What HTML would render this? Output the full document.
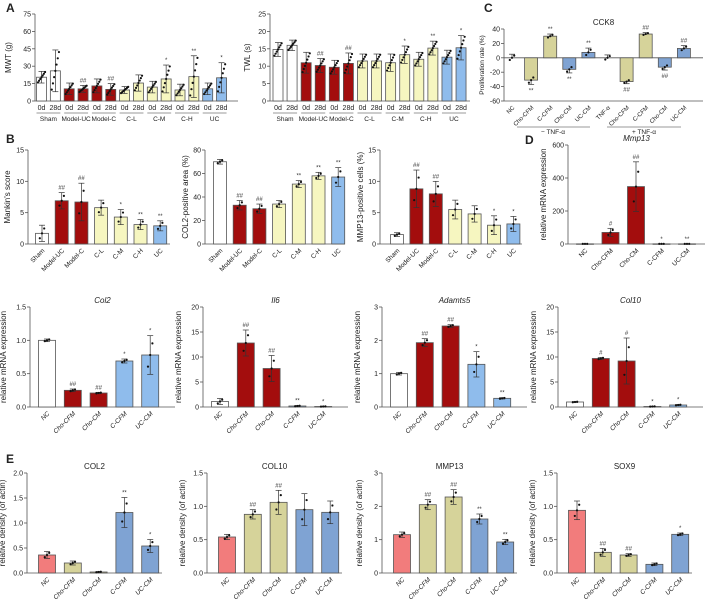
<!DOCTYPE html>
<html><head><meta charset="utf-8">
<style>
html,body{margin:0;padding:0;background:#fff;}
svg{display:block;font-family:"Liberation Sans",sans-serif;}
</style></head>
<body>
<svg id="fig" width="711" height="608" viewBox="0 0 711 608" xmlns="http://www.w3.org/2000/svg"></svg>
<script>
// ---------- DATA ----------
const aCats = ["0d","28d","0d","28d","0d","28d","0d","28d","0d","28d","0d","28d","0d","28d"];
const aGroups = ["Sham","Model-UC","Model-C","C-L","C-M","C-H","UC"];
const mwtVals = [20.5,26,10.5,10.5,13,10,9.5,15.5,12,19,9.5,21,10.5,20];
const mwtErr = [5,18,5,3,6,5,3,7,5,12,5,18,5,13];
const mwtAnn = ["","","","##","","##","","","","*","","**","","*"];
const twlVals = [14.8,16,11,10.2,9.7,10.8,11.5,11.5,11,13.3,12,15.2,12.6,15.3];
const twlErr = [2,1.5,3,2,2,3,2,2,2.5,2.5,2,2,2,3.5];
const twlAnn = ["","","","##","","##","","","","*","","**","","*"];
const bCats = ["Sham","Model-UC","Model-C","C-L","C-M","C-H","UC"];
const mankinVals = [1.7,6.9,6.7,5.8,4.3,3.1,2.9];
const mankinErr = [1.3,1.3,3,1.2,1.2,0.8,0.8];
const mankinAnn = ["","##","##","","*","**","**"];
const col2AreaVals = [70,33,30,34,51,58,57];
const col2AreaErr = [2,4,4,3,3,3,8];
const col2AreaAnn = ["","##","##","","**","**","**"];
const mmpCellVals = [1.5,8.8,8,5.5,4.8,3,3.2];
const mmpCellErr = [0.3,3,2,1.5,1.3,1.5,1.2];
const mmpCellAnn = ["","##","##","","","*","*"];
const cckCats = ["NC","Cho-CFM","C-CFM","Cho-CM","UC-CM","TNF-α","Cho-CFM","C-CFM","Cho-CM","UC-CM"];
const cckVals = [0,-31,30,-16,7.5,0,-33,33,-13,13];
const cckErr = [5,6,3,5,6,4,3,2,4,4];
const cckAnn = ["","**","**","**","**","","##","##","##","##"];
const fiveCats = ["NC","Cho-CFM","Cho-CM","C-CFM","UC-CM"];
const mmp13Vals = [1,70,348,1,1];
const mmp13Err = [0,25,150,0,0];
const mmp13Ann = ["","#","##","*","**"];
const col2Vals = [1,0.25,0.21,0.69,0.78];
const col2Err = [0.02,0.02,0.01,0.03,0.29];
const col2Ann = ["","##","##","*","*"];
const il6Vals = [1.1,12.8,7.7,0.2,0.1];
const il6Err = [0.6,2.6,2.6,0.1,0.05];
const il6Ann = ["","##","##","**","*"];
const adamVals = [1,1.93,2.43,1.28,0.26];
const adamErr = [0.04,0.12,0.04,0.38,0.02];
const adamAnn = ["","##","##","*","**"];
const col10Vals = [1,9.7,9.2,0.1,0.4];
const col10Err = [0.1,0.2,4.6,0.05,0.1];
const col10Ann = ["","#","#","*","*"];
const wCol2Vals = [0.36,0.2,0.02,1.21,0.54];
const wCol2Err = [0.07,0.04,0.01,0.3,0.13];
const wCol2Ann = ["","","","**","*"];
const wCol10Vals = [0.54,0.88,1.06,0.95,0.91];
const wCol10Err = [0.04,0.07,0.18,0.24,0.17];
const wCol10Ann = ["","##","##","",""];
const wMmpVals = [1.15,2.05,2.28,1.62,0.93];
const wMmpErr = [0.08,0.15,0.22,0.15,0.08];
const wMmpAnn = ["","##","##","**","**"];
const wSoxVals = [0.94,0.31,0.27,0.13,0.58];
const wSoxErr = [0.14,0.06,0.02,0.02,0.02];
const wSoxAnn = ["","##","##","","*"];

// ---------- STYLE ----------
const W="#ffffff", R="#a30d0d", Y="#f6f6c0", B="#8fbcec", S="#f27c7c", O="#d6d39a", BB="#7fa3d3";
const NS="http://www.w3.org/2000/svg";
const svg=document.getElementById('fig');
function mk(tag,attrs,parent){const e=document.createElementNS(NS,tag);for(const k in attrs)e.setAttribute(k,attrs[k]);(parent||svg).appendChild(e);return e;}
function txt(s,x,y,size,parent,extra){const t=mk('text',Object.assign({x:x,y:y,'font-size':size,fill:'#222'},extra||{}),parent);t.textContent=s;return t;}

function panel(name,g,cats,vals,errs,anns,colors,opt){
  opt=opt||{};
  const grp=mk('g',{});
  
  
  const yS=v=>g.yb-(v-g.min)/(g.max-g.min)*(g.yb-g.yt);
  const xS=i=>g.c0+i*g.step;
  const y0=yS(0);
  const ya=mk('line',{x1:g.ax,y1:g.yt,x2:g.ax,y2:g.yb,stroke:'#555','stroke-width':0.8},grp);
  
  
  const xa=mk('line',{x1:g.ax,y1:g.yb,x2:g.xr,y2:g.yb,stroke:'#555','stroke-width':0.8},grp);
  
  
  if(g.min<0){mk('line',{x1:g.ax,y1:y0,x2:g.xr,y2:y0,stroke:'#555','stroke-width':0.8},grp);}
  g.ticks.forEach(t=>{const y=yS(t);mk('line',{x1:g.ax-3,y1:y,x2:g.ax,y2:y,stroke:'#555','stroke-width':0.8},grp);
    const tl=txt(g.dec?t.toFixed(1):String(t),g.ax-4,y+2.5,7,grp,{'text-anchor':'end'});
    
    });
  const yl=txt(g.ylab,0,0,g.ylsize||8,grp,{'text-anchor':'middle',transform:`translate(${g.ax-(g.yloff||22)},${(g.yt+g.yb)/2}) rotate(-90)`});
  
  
  if(g.title){const tt=txt(g.title,(g.ax+g.xr)/2,g.yt-4,8,grp,{'text-anchor':'middle','font-style':g.italic?'italic':'normal'});
    
    }
  vals.forEach((v,i)=>{
    const cx=xS(i), y=yS(v), top=Math.min(y,y0), h=Math.abs(y-y0);
    const col=colors[i];
    if(col){const r=mk('rect',{x:cx-g.bw/2,y:top,width:g.bw,height:Math.max(h,0.5),fill:col,stroke:'#555','stroke-width':0.8},grp);
      
      }
    const e=errs[i]; const dir=v<0?-1:1;
    const yEnd=yS(v+dir*e), yLow=opt.upOnly?y:yS(Math.max(g.min,v-dir*e));
    mk('line',{x1:cx,y1:yEnd,x2:cx,y2:yLow,stroke:'#333','stroke-width':0.7},grp);
    mk('line',{x1:cx-3,y1:yEnd,x2:cx+3,y2:yEnd,stroke:'#333','stroke-width':0.7},grp);
    if(!opt.upOnly)mk('line',{x1:cx-3,y1:yLow,x2:cx+3,y2:yLow,stroke:'#333','stroke-width':0.7},grp);
    const spread=opt.dense?[-0.9,-0.6,-0.3,0,0.3,0.6,0.9]:[-0.6,0,0.6];
    spread.forEach((f,k)=>{mk('circle',{cx:cx+(k-(spread.length-1)/2)*(opt.dense?1.2:2.2),cy:yS(Math.max(g.min,v+f*e)),r:1.1,fill:'#111'},grp);});
    if(anns[i]){const ay=dir>0?yEnd-3:yEnd+8;
      const a=txt(anns[i],cx,ay,6,grp,{'text-anchor':'middle',fill:'#333'});
      
      }
    if(!opt.noCatLabels){
      const lx=cx+3, ly=g.yb+7;
      const cl=txt(cats[i],lx,ly,opt.catSize||6.5,grp,{'text-anchor':'end',transform:`rotate(-45 ${lx} ${ly})`,'font-style':opt.catItalic?'italic':'normal'});
      
      
    }
  });
  return {grp,xS};
}

[["A",6,12],["B",6,143],["C",484,12],["D",525,144],["E",6,463]].forEach(p=>{
  const t=txt(p[0],p[1],p[2],12,svg,{'font-weight':'bold'});
  
  
});

const aColors=[W,W,R,R,R,R,Y,Y,Y,Y,Y,Y,B,B];
function aLabels(res,g){
  aCats.forEach((c,i)=>{const t=txt(c,res.xS(i),g.yb+9,7,res.grp,{'text-anchor':'middle'});
    
    });
  aGroups.forEach((c,k)=>{const xm=(res.xS(2*k)+res.xS(2*k+1))/2;
    mk('line',{x1:res.xS(2*k)-5,y1:g.yb+12,x2:res.xS(2*k+1)+5,y2:g.yb+12,stroke:'#333','stroke-width':0.6},res.grp);
    const t=txt(c,xm,g.yb+20,6.5,res.grp,{'text-anchor':'middle'});
    
    });
}
const gA1={ax:35,xr:238,yt:14,yb:101,min:0,max:75,ticks:[0,15,30,45,60,75],c0:41.5,step:13.85,bw:10,ylab:"MWT (g)",yloff:24};
aLabels(panel('mwt-chart',gA1,aCats,mwtVals,mwtErr,mwtAnn,aColors,{noCatLabels:true,dense:true}),gA1);
const gA2={ax:270,xr:470,yt:14,yb:101,min:0,max:25,ticks:[0,5,10,15,20,25],c0:278,step:14.08,bw:10,ylab:"TWL (s)",yloff:20};
aLabels(panel('twl-chart',gA2,aCats,twlVals,twlErr,twlAnn,aColors,{noCatLabels:true,dense:true}),gA2);

const gC={ax:504,xr:703,yt:29,yb:101,min:-60,max:40,ticks:[-60,-40,-20,0,20,40],c0:512,step:19.1,bw:13,ylab:"Proliferation rate (%)",ylsize:6.5,yloff:20,title:"CCK8"};
panel('cck8-chart',gC,cckCats,cckVals,cckErr,cckAnn,[null,O,O,BB,BB,null,O,O,BB,BB],{upOnly:true,catSize:6});
mk('line',{x1:517,y1:127,x2:590,y2:127,stroke:'#333','stroke-width':0.6});
mk('line',{x1:607,y1:127,x2:681,y2:127,stroke:'#333','stroke-width':0.6});
const tm=txt("−  TNF-α",553,134,6.5,svg,{'text-anchor':'middle'});


const tp=txt("+ TNF-α",644,134,6.5,svg,{'text-anchor':'middle'});



const bColors=[W,R,R,Y,Y,Y,B];
panel('mankin-chart',{ax:28,xr:170,yt:150,yb:244,min:0,max:15,ticks:[0,5,10,15],c0:42,step:19.7,bw:13,ylab:"Mankin's score",yloff:18},bCats,mankinVals,mankinErr,mankinAnn,bColors);
panel('col2-area-chart',{ax:205,xr:345,yt:150,yb:244,min:0,max:80,ticks:[0,20,40,60,80],c0:220,step:19.7,bw:13,ylab:"COL2-positive area (%)",yloff:17},bCats,col2AreaVals,col2AreaErr,col2AreaAnn,bColors);
panel('mmp13-cells-chart',{ax:380,xr:522,yt:150,yb:244,min:0,max:15,ticks:[0,5,10,15],c0:397,step:19.4,bw:13,ylab:"MMP13-positive cells (%)",yloff:17},bCats,mmpCellVals,mmpCellErr,mmpCellAnn,bColors);
panel('mmp13-mrna-chart',{ax:568,xr:705,yt:145,yb:244,min:0,max:600,ticks:[0,200,400,600],c0:585,step:25.5,bw:17,ylab:"relative mRNA expression",title:"Mmp13",italic:true,yloff:22},fiveCats,mmp13Vals,mmp13Err,mmp13Ann,[W,R,R,B,B]);

const r3Colors=[W,R,R,B,B];
function g3(ax,max,ticks,title,dec){return {ax:ax,xr:ax+145,yt:307,yb:407,min:0,max:max,ticks:ticks,dec:dec,c0:ax+17,step:25.8,bw:17,ylab:"relative mRNA expression",title:title,italic:true,yloff:dec?24:22};}
panel('col2-mrna-chart',g3(30,1.5,[0,0.5,1,1.5],"Col2",true),fiveCats,col2Vals,col2Err,col2Ann,r3Colors,{catItalic:true});
panel('il6-mrna-chart',g3(203,20,[0,5,10,15,20],"Il6"),fiveCats,il6Vals,il6Err,il6Ann,r3Colors,{catItalic:true});
panel('adamts5-mrna-chart',g3(382,3,[0,1,2,3],"Adamts5"),fiveCats,adamVals,adamErr,adamAnn,r3Colors,{catItalic:true});
panel('col10-mrna-chart',g3(558,20,[0,5,10,15,20],"Col10"),fiveCats,col10Vals,col10Err,col10Ann,r3Colors,{catItalic:true});

const r4Colors=[S,O,O,BB,BB];
function g4(ax,max,ticks,title,dec){return {ax:ax,xr:ax+135,yt:473,yb:573,min:0,max:max,ticks:ticks,dec:dec,c0:ax+20,step:25.8,bw:17,ylab:"relative density (of actin)",title:title,yloff:dec?22:20};}
panel('col2-density-chart',g4(27,2,[0,0.5,1,1.5,2],"COL2",true),fiveCats,wCol2Vals,wCol2Err,wCol2Ann,r4Colors,{catItalic:true});
panel('col10-density-chart',g4(207,1.5,[0,0.5,1,1.5],"COL10",true),fiveCats,wCol10Vals,wCol10Err,wCol10Ann,r4Colors,{catItalic:true});
panel('mmp13-density-chart',g4(382,3,[0,1,2,3],"MMP13"),fiveCats,wMmpVals,wMmpErr,wMmpAnn,r4Colors,{catItalic:true});
panel('sox9-density-chart',g4(557,1.5,[0,0.5,1,1.5],"SOX9",true),fiveCats,wSoxVals,wSoxErr,wSoxAnn,r4Colors,{catItalic:true});
</script>
</body></html>
